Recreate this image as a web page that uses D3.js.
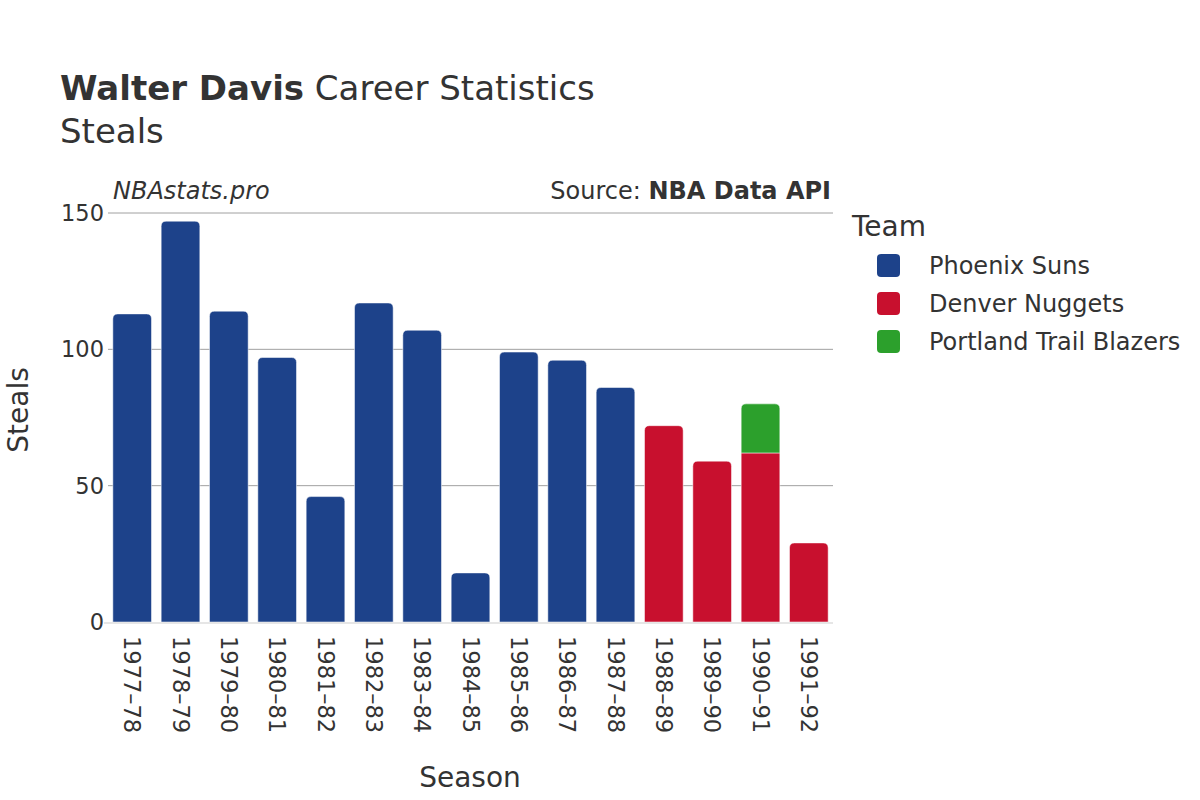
<!DOCTYPE html>
<html>
<head>
<meta charset="utf-8">
<script src="https://cdn.jsdelivr.net/npm/d3@7"></script>
<style>
  body { margin: 0; background: #fff; }
  svg { display: block; }
  text { font-family: "DejaVu Sans", sans-serif; fill: #333; }
</style>
</head>
<body>
<svg id="chart" width="1200" height="800"></svg>
<script>
const seasons = ["1977–78","1978–79","1979–80","1980–81","1981–82","1982–83","1983–84","1984–85","1985–86","1986–87","1987–88","1988–89","1989–90","1990–91","1991–92"];
const teams = ["Phoenix Suns","Denver Nuggets","Portland Trail Blazers"];
const teamColors = ["#1d428a","#c8102e","#2ca02c"];
const phoenix  = [113,147,114,97,46,117,107,18,99,96,86,0,0,0,0];
const denver   = [0,0,0,0,0,0,0,0,0,0,0,72,59,62,29];
const portland = [0,0,0,0,0,0,0,0,0,0,0,0,0,18,0];
const yTicks = [0,50,100,150];

const svg = d3.select("#chart");
const margin = {left:108, right:833, top:213, bottom:622};

const x = d3.scaleBand().domain(seasons).range([margin.left, margin.right]).paddingInner(0.2).paddingOuter(0.1);
const y = d3.scaleLinear().domain([0,150]).range([margin.bottom, margin.top]);

// gridlines
svg.append("g").selectAll("line").data(yTicks.filter(d=>d>0)).join("line")
  .attr("x1", margin.left).attr("x2", margin.right)
  .attr("y1", d=>y(d)).attr("y2", d=>y(d))
  .attr("stroke", "#a0a0a0").attr("stroke-width", 1);

// y tick labels
svg.append("g").selectAll("text").data(yTicks).join("text")
  .attr("x", margin.left - 4).attr("y", d=>y(d)).attr("dy","0.35em")
  .attr("text-anchor","end").style("font-size","22.5px").text(d=>d);

// stacked data
const series = [phoenix, denver, portland];
const stackedData = seasons.map((s,i)=>{
  let base = 0; const segs = [];
  series.forEach((arr,t)=>{ if(arr[i]>0){ segs.push({season:s, team:t, y0:base, y1:base+arr[i]}); base += arr[i]; } });
  segs.forEach((sg,k)=> sg.top = (k===segs.length-1));
  return segs;
}).flat();

function barPath(d){
  const x0 = x(d.season), w = x.bandwidth();
  const yt = y(d.y1), yb = y(d.y0);
  const r = d.top ? Math.min(5, yb-yt) : 0;
  return `M${x0},${yb} L${x0},${yt+r} Q${x0},${yt} ${x0+r},${yt} L${x0+w-r},${yt} Q${x0+w},${yt} ${x0+w},${yt+r} L${x0+w},${yb} Z`;
}

svg.append("g").selectAll("path").data(stackedData).join("path")
  .attr("d", barPath)
  .attr("fill", d=>teamColors[d.team])
  .attr("stroke", "#fff").attr("stroke-opacity",0.5).attr("stroke-width", 1);

// zero line
svg.append("line").attr("x1", margin.left-4).attr("x2", margin.right)
  .attr("y1", y(0)+1).attr("y2", y(0)+1).attr("stroke","#e6e6e6").attr("stroke-width",2);

// x labels
svg.append("g").selectAll("text").data(seasons).join("text")
  .attr("transform", d=>`translate(${x(d)+x.bandwidth()/2},636) rotate(90)`)
  .attr("dy","0.35em").attr("text-anchor","start")
  .style("font-size","22.5px").text(d=>d);

// titles
const t = svg.append("text").attr("x",60).attr("y",100).style("font-size","34px");
t.append("tspan").style("font-weight","bold").text("Walter Davis");
t.append("tspan").text(" Career Statistics");
svg.append("text").attr("x",60).attr("y",143).style("font-size","34px").text("Steals");

svg.append("text").attr("x",113).attr("y",199).style("font-size","24px").style("font-style","italic").text("NBAstats.pro");
const src = svg.append("text").attr("x",831).attr("y",199).attr("text-anchor","end").style("font-size","24px");
src.append("tspan").text("Source: ");
src.append("tspan").style("font-weight","bold").text("NBA Data API");

// axis titles
svg.append("text").attr("transform","translate(28,410) rotate(-90)").attr("text-anchor","middle")
  .style("font-size","28px").text("Steals");
svg.append("text").attr("x",470).attr("y",787).attr("text-anchor","middle")
  .style("font-size","28px").text("Season");

// legend
svg.append("text").attr("x",852).attr("y",236).style("font-size","28px").text("Team");
const lg = svg.append("g").selectAll("g").data(teams).join("g")
  .attr("transform",(d,i)=>`translate(877,${254+i*38})`);
lg.append("rect").attr("width",23).attr("height",23).attr("rx",4).attr("fill",(d,i)=>teamColors[i]);
lg.append("text").attr("x",52).attr("y",12).attr("dy","0.35em").style("font-size","24px").text(d=>d);
</script>
</body>
</html>
